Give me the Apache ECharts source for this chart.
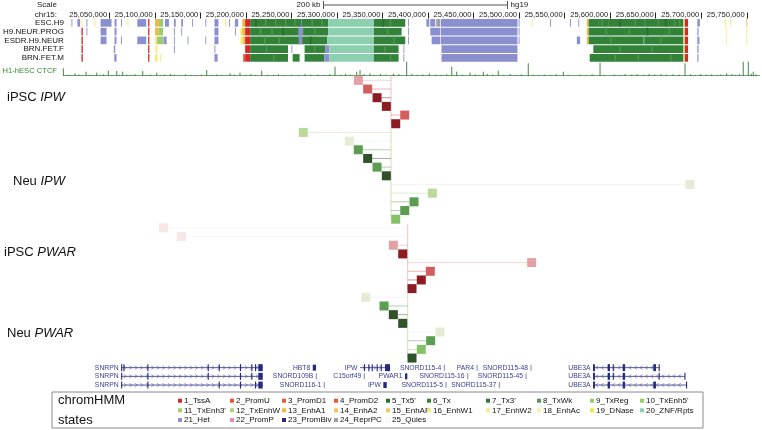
<!DOCTYPE html>
<html><head><meta charset="utf-8">
<script src="https://cdn.jsdelivr.net/npm/echarts@6/dist/echarts.min.js"></script>
<style>html,body{margin:0;padding:0;background:#fff}#c{width:762px;height:430px}</style>
</head><body><div id="c"></div>
<script>
var FONT = '"Liberation Sans", Arial, Helvetica, sans-serif';

// ---------- axis (kb on chr15) ----------
var XMIN = 25006.8, XMAX = 25764.5;
var tickKb = [25050,25100,25150,25200,25250,25300,25350,25400,25450,25500,25550,25600,25650,25700,25750];
var scaleBarKb = [25290, 25490];
var scaleBarLabel = '200 kb';
var assemblyName = 'hg19';

// ---------- chromHMM states ----------
var stateNames = ['1_TssA','2_PromU','3_PromD1','4_PromD2',"5_Tx5'",'6_Tx',"7_Tx3'",'8_TxWk','9_TxReg',"10_TxEnh5'",
  "11_TxEnh3'",'12_TxEnhW','13_EnhA1','14_EnhA2','15_EnhAF','16_EnhW1','17_EnhW2','18_EnhAc','19_DNase','20_ZNF/Rpts',
  '21_Het','22_PromP','23_PromBiv','24_ReprPC','25_Quies'];
var stateColors = ['#d42a26','#e8582c','#ea5a3a','#e8583c','#2b6f30','#33823a','#2f7634','#4d9a4a','#9ccb6c','#9ccb6c',
  '#a4cf70','#aad37c','#f0b840','#f3c55a','#f3c55a','#f3ec78','#f5ef8a','#f7f2a6','#eeea44','#8dd0b0',
  '#8a8fd0','#e08ac0','#3e1e7e','#a0a0a0','#ffffff'];

var trackNames = ['ESC.H9','H9.NEUR.PROG','ESDR.H9.NEUR','BRN.FET.F','BRN.FET.M'];
// segments: [start kb, end kb, state]
var trackESC = [[25008.5,25009.5,21],[25015,25018,21],[25019.5,25020.5,16],[25025,25026,21],[25034,25035,16],[25040.5,25052.5,21],
 [25055.8,25058,21],[25063,25064,21],[25070,25071,16],[25080.8,25090.6,21],[25092.7,25094.1,1],[25100.3,25104.7,13],[25104.7,25109,9],
 [25111.2,25115.5,21],[25121,25123,21],[25129,25131,21],[25141,25142,21],[25155.5,25156.5,21],[25165.5,25169.9,21],[25177,25178,16],
 [25181.5,25182.5,21],[25188,25191.6,21],[25196,25199.2,13],[25199.2,25204.7,1],[25204.7,25290.5,6],
 [25210,25212,5],[25221,25222.5,8],[25232,25233.5,8],[25243,25244.5,8],[25253,25254.5,8],[25260.5,25261.5,21],[25272,25273.5,8],[25283,25284.5,8],
 [25290.5,25340.5,20],[25340.5,25375,6],[25350,25352,5],[25358,25359.5,8],[25378,25379,21],[25398.2,25401.4,21],[25402.5,25407.9,21],
 [25409,25413.4,24],[25414.1,25498.2,21],[25499.5,25500.5,21],[25514,25515,16],[25534,25535,21],[25556,25557,21],[25565,25566,21],
 [25574.3,25576.4,13],[25576.4,25680.5,6],[25587,25588,8],[25590.6,25592,8],[25598,25599,8],[25610,25612,5],[25626.8,25628,8],[25637.6,25638.8,8],
 [25652.2,25653.5,8],[25660,25662,5],[25670.2,25671.5,8],[25675.7,25677,8],[25680.5,25681.9,16],[25681.9,25685.5,1],[25695.7,25698.5,21],
 [25726,25727,16],[25731.5,25732.5,16],[25749.5,25750.5,13]];
var trackNEUR = [[25019.5,25021,1],[25025,25026,21],[25040.5,25047,21],[25055.8,25058,21],[25092.7,25094.1,1],[25100.3,25104,13],
 [25104,25109,10],[25121,25122,21],[25129,25130,21],[25165.5,25169.9,21],[25188,25189,21],[25194,25196,16],[25196,25199.2,13],
 [25199.2,25204.7,1],[25204.7,25290.5,6],[25215,25217,8],[25228,25229.5,8],[25240,25242,5],[25257.6,25263,21],[25275,25276.5,8],
 [25290.5,25340.5,20],[25340.5,25371,6],[25355,25356.5,8],[25378,25379,21],[25402.5,25413.4,21],[25414.1,25498.2,21],[25499.5,25500.5,21],
 [25574.3,25576.4,13],[25576.4,25680.5,6],[25595,25596.5,8],[25620,25621.5,8],[25640,25642,5],[25664,25665.5,8],
 [25680.5,25681.9,16],[25681.9,25685.5,1],[25695.7,25697,21],[25727,25728,16],[25749.5,25750.5,16]];
var trackESDR = [[25019.5,25021,1],[25040.5,25047,21],[25055.8,25058,21],[25063,25064,21],[25080.8,25090.6,21],[25092.7,25094.1,1],
 [25100.3,25102.5,16],[25102.5,25109,9],[25109.5,25113,21],[25121,25122,21],[25136,25137,21],[25155.5,25156.5,21],[25165.5,25169.9,21],
 [25194,25197,16],[25197,25199.2,13],[25199.2,25204.7,1],[25204.7,25289.5,6],[25220,25221.5,8],[25236,25237.5,8],[25258,25262,21],
 [25270,25272,5],[25289.5,25340.5,20],[25340.5,25375,6],[25362,25363.5,8],[25378,25379,21],[25404,25413.4,21],[25414.1,25498.2,21],
 [25499.5,25500.5,21],[25563.4,25567,21],[25574.3,25576.4,13],[25576.4,25680.5,6],[25600,25601.5,8],[25636.5,25637.5,20],[25655,25656.5,8],
 [25680.5,25681.9,16],[25681.9,25685.5,1],[25695.7,25698,21],[25727,25728,16],[25749.5,25750.5,16]];
var trackBRNF = [[25019.5,25021,1],[25055,25056.5,21],[25092.7,25094.1,1],[25100.8,25103,16],[25121,25122,21],[25165.5,25166.5,21],
 [25199.2,25204.7,1],[25204.7,25246.3,6],[25222,25223.5,8],[25250,25251,21],[25264.5,25287,6],[25275,25276.5,8],[25287,25291.6,21],
 [25291.6,25340.5,20],[25340.5,25367.7,6],[25352,25353.5,8],[25373,25374,21],[25414.8,25498.2,21],[25581.5,25680.5,6],[25610,25611.5,8],
 [25645,25646.5,8],[25680.5,25681.9,16],[25681.9,25685.5,1],[25695.7,25697,21]];
var trackBRNM = [[25019.5,25021,1],[25055.5,25058,21],[25092.7,25094.1,1],[25100.3,25103,16],[25106,25107,16],[25165.5,25169,21],
 [25197,25199.2,3],[25199.2,25204.7,1],[25204.7,25246.3,6],[25230,25231.5,8],[25251.4,25259,6],[25264.5,25286,6],[25286,25291.6,21],
 [25291.6,25340.5,20],[25340.5,25367.7,6],[25358,25359.5,8],[25373,25374,21],[25414.8,25498.2,21],[25577.5,25680.5,6],[25605,25606.5,8],
 [25630,25631.5,8],[25666,25667.5,8],[25680.5,25681.9,16],[25681.9,25685.5,1],[25695.7,25697,21]];
var tracks = [trackESC, trackNEUR, trackESDR, trackBRNF, trackBRNM];

// ---------- H1-hESC CTCF signal ----------
var ctcfLabel = 'H1-hESC CTCF';
var ctcfPeakPos = [25007.2,25019.9,25031.9,25043.5,25056.1,25065.2,25071.7,25093.5,25108.7,25123.9,25163.0,25188.4,25199.2,25222.8,
  25302.5,25326.1,25329.7,25340.5,25380.4,25429.4,25434.8,25449.3,25463.7,25480.0,25512.6,25550.7,25590.6,25683.0,25728.3,25746.3,25751.8,25757.2];
var ctcfPeakVal = [7.7,2.7,4.3,3.3,5.3,5,4.3,5,3.3,2,6,2.7,3.3,5.3,9.3,4.3,6,2.7,14.3,9.3,4.3,3.3,4.3,5.3,12.7,4.3,13.3,12.7,2.7,14.3,14.3,4.3];
var ctcfNoise = [[25012,1.2],[25015,0.8],[25024,1.5],[25027,0.9],[25036,1.3],[25039,0.7],[25048,1.1],[25051,1.6],[25060,0.9],[25068,1.2],
 [25076,1.4],[25080,0.8],[25085,1.8],[25098,1.0],[25102,1.3],[25113,0.9],[25117,1.5],[25128,1.1],[25133,0.8],[25140,1.7],[25146,1.2],
 [25152,0.9],[25157,1.4],[25169,1.0],[25174,1.6],[25179,1.2],[25184,0.9],[25193,1.5],[25205,1.1],[25211,1.9],[25216,0.8],[25229,1.2],
 [25236,1.0],[25241,1.7],[25247,0.9],[25255,1.3],[25263,1.1],[25270,2.0],[25276,1.2],[25284,1.5],[25291,1.0],[25297,1.8],[25309,1.3],
 [25314,2.2],[25319,1.5],[25334,1.7],[25345,1.1],[25352,1.9],[25358,1.4],[25366,2.3],[25372,1.8],[25386,2.0],[25392,1.2],[25398,1.6],
 [25405,2.4],[25412,1.5],[25418,1.1],[25424,1.8],[25441,1.3],[25455,1.7],[25459,1.1],[25468,2.0],[25474,1.4],[25486,1.2],[25493,1.9],
 [25499,1.0],[25505,1.6],[25518,1.3],[25524,0.9],[25530,1.5],[25537,1.1],[25543,1.7],[25556,1.2],[25569,1.5],[25576,1.0],[25582,1.8],
 [25595,1.3],[25606,1.6],[25612,1.1],[25618,2.0],[25625,1.4],[25631,1.8],[25638,1.2],[25644,2.1],[25650,1.5],[25657,1.9],[25663,1.3],
 [25670,1.7],[25677,1.2],[25689,1.6],[25694,1.1],[25700,1.9],[25706,1.3],[25712,1.7],[25718,1.0],[25722,1.5],[25734,1.9],[25738,1.2],
 [25742,1.8],[25755,2.2],[25760,1.6]];

// ---------- interaction squares ----------
var lolliGroups = ['iPSC IPW','Neu IPW','iPSC PWAR','Neu PWAR'];
var lolliCenters = [25363.4, 25363.4, 25381.5, 25381.5];
var lolliCellType = ['iPSC','Neu','iPSC','Neu'];
var iPSC_IPW_pos = [25327.8,25338.0,25348.2,25358.3,25378.3,25368.5];
var iPSC_IPW_lvl = [2,3,4,4,3,4];
var Neu_IPW_pos = [25268.0,25318.0,25327.8,25338.0,25348.2,25358.3,25688.4,25408.3,25388.4,25378.3,25368.5];
var Neu_IPW_lvl = [2,1,4,5,4,5,1,2,4,4,3];
var iPSC_PWAR_pos = [25115.9,25135.4,25365.9,25376.1,25516.3,25406.1,25396.3,25386.2];
var iPSC_PWAR_lvl = [1,1,2,4,2,3,4,4];
var Neu_PWAR_pos = [25335.9,25355.8,25365.9,25376.1,25416.6,25406.5,25396.3,25386.2];
var Neu_PWAR_lvl = [1,4,5,5,1,4,3,5];
var lolliPos = [iPSC_IPW_pos, Neu_IPW_pos, iPSC_PWAR_pos, Neu_PWAR_pos];
var lolliLvl = [iPSC_IPW_lvl, Neu_IPW_lvl, iPSC_PWAR_lvl, Neu_PWAR_lvl];
var redScale = ['#f8e6e6','#e0a2a4','#d45e5e','#8c1c22'];
var greenScale = ['#e4ecd6','#bbd99a','#84c064','#5c9e50','#2f5229'];

// ---------- genes ----------
var geneNames  = ['SNRPN','SNRPN','SNRPN','HBT8','SNORD109B','SNORD116-1','IPW','C15orf49','PWAR1','IPW',
  'SNORD115-4','SNORD115-16','SNORD115-5','PAR4','SNORD115-45','SNORD115-37','SNORD115-48','UBE3A','UBE3A','UBE3A'];
var geneStart  = [25070.0,25070.0,25070.0,25278.3,25281.6,25290.3,25329.7,25333.8,25378.6,25355.0,
  25420.8,25446.1,25422.6,25456.3,25509.6,25480.6,25515.0,25583.0,25583.0,25583.0];
var geneEnd    = [25223.9,25223.9,25223.9,25281.9,25282.3,25291.0,25362.3,25334.5,25381.1,25358.7,
  25421.5,25446.8,25423.3,25457.0,25510.3,25481.3,25515.7,25655.0,25683.0,25684.8];
var geneRow    = [0,1,2,0,1,2,0,1,1,2,0,1,2,0,1,2,0,0,1,2];
var geneStrand = [1,1,1,0,0,0,1,0,0,0,0,0,0,0,0,0,0,-1,-1,-1];
var geneExons  = [
  [[25070,25071],[25072.4,25073.2],[25098.5,25099.2],[25164.1,25164.8],[25176.1,25176.8],[25199.2,25199.9],[25211.5,25212.2],[25215.5,25216.2],[25219.1,25223.9]],
  [[25070,25071],[25098.5,25099.2],[25164.1,25164.8],[25199.2,25199.9],[25211.5,25212.2],[25219.1,25223.9]],
  [[25070,25071],[25098.5,25099.2],[25176.1,25176.8],[25199.2,25199.9],[25215.5,25216.2],[25219.1,25223.9]],
  [[25278.3,25281.9]],[[25281.6,25282.3]],[[25290.3,25291.0]],
  [[25334.0,25334.7],[25338.7,25339.4],[25342.4,25343.1],[25347.8,25348.5],[25352.2,25352.9],[25356.9,25362.3]],
  [[25333.8,25334.5]],[[25378.6,25381.1]],[[25355.0,25358.7]],
  [[25420.8,25421.5]],[[25446.1,25446.8]],[[25422.6,25423.3]],[[25456.3,25457.0]],[[25509.6,25510.3]],[[25480.6,25481.3]],[[25515.0,25515.7]],
  [[25583.0,25585.1],[25598.9,25601.4],[25604.4,25605.0],[25615.2,25617.7],[25648.5,25651.4],[25654.3,25655.0]],
  [[25583.0,25585.1],[25598.9,25601.4],[25604.4,25605.0],[25615.2,25617.7],[25654.3,25655.0],[25682.3,25683.0]],
  [[25583.0,25585.1],[25598.9,25601.4],[25615.2,25617.7],[25648.5,25651.4],[25684.1,25684.8]]
];

// ---------- build data ----------
var trackData = [];
tracks.forEach(function (t, ti) { t.forEach(function (s) { trackData.push([s[0], s[1], ti, s[2]]); }); });
var ctcfData = [];
ctcfNoise.forEach(function (p) { ctcfData.push([p[0], p[1]]); });
ctcfPeakPos.forEach(function (p, i) { ctcfData.push([p, ctcfPeakVal[i]]); });

var lolliRows = [], lolliData = [], lolliVert = [];
var rowIdx = 0;
lolliPos.forEach(function (arr, g) {
  var first = rowIdx;
  arr.forEach(function (p, i) {
    lolliRows.push(lolliGroups[g] + ' ' + (i + 1));
    lolliData.push([p, rowIdx, lolliCenters[g], g, lolliLvl[g][i]]);
    rowIdx++;
  });
  lolliVert.push([lolliCenters[g], first, rowIdx - 1, g]);
});
function lolliColor(g, lvl) {
  return lolliCellType[g] === 'iPSC' ? redScale[lvl - 1] : greenScale[lvl - 1];
}
var geneData = geneNames.map(function (n, i) { return [geneStart[i], geneEnd[i], geneRow[i], i]; });

// ---------- renderers ----------
function renderScale(params, api) {
  var a = api.coord([api.value(0), 0.5]), b = api.coord([api.value(1), 0.5]);
  var y = a[1];
  var st = {stroke: '#555', lineWidth: 1};
  return {type: 'group', children: [
    {type: 'line', shape: {x1: a[0], y1: y, x2: b[0], y2: y}, style: st},
    {type: 'line', shape: {x1: a[0], y1: y - 4, x2: a[0], y2: y + 4}, style: st},
    {type: 'line', shape: {x1: b[0], y1: y - 4, x2: b[0], y2: y + 4}, style: st},
    {type: 'text', x: a[0] - 3, y: y, style: {text: scaleBarLabel, align: 'right', verticalAlign: 'middle', font: '8px ' + FONT, fill: '#222'}},
    {type: 'text', x: b[0] + 3, y: y, style: {text: assemblyName, align: 'left', verticalAlign: 'middle', font: '8px ' + FONT, fill: '#222'}}
  ]};
}
function renderTrack(params, api) {
  var s = api.coord([api.value(0), api.value(2)]);
  var e = api.coord([api.value(1), api.value(2)]);
  var h = 7.6;
  return {type: 'rect', shape: {x: s[0], y: s[1] - h / 2, width: Math.max(e[0] - s[0], 0.9), height: h},
    style: {fill: stateColors[api.value(3) - 1]}};
}
function renderCtcf(params, api) {
  var b = api.coord([api.value(0), 0]);
  var t = api.coord([api.value(0), api.value(1)]);
  return {type: 'line', shape: {x1: b[0], y1: b[1], x2: t[0], y2: t[1]}, style: {stroke: '#2f7a2f', lineWidth: 0.9}};
}
function renderBaseline(params, api) {
  var a = api.coord([XMIN, 0]), b = api.coord([XMAX, 0]);
  return {type: 'line', shape: {x1: a[0], y1: a[1] - 0.5, x2: b[0], y2: b[1] - 0.5}, style: {stroke: '#4a8a4a', lineWidth: 0.8}};
}
function renderVert(params, api) {
  var a = api.coord([api.value(0), api.value(1)]);
  var b = api.coord([api.value(0), api.value(2)]);
  var col = lolliCellType[api.value(3)] === 'iPSC' ? '#f0c4c6' : '#d2e2b6';
  return {type: 'line', shape: {x1: a[0], y1: a[1] - 4, x2: b[0], y2: b[1]}, style: {stroke: col, lineWidth: 1}};
}
function renderLolli(params, api) {
  var p = api.coord([api.value(0), api.value(1)]);
  var c = api.coord([api.value(2), api.value(1)]);
  var col = lolliColor(api.value(3), api.value(4));
  var sz = 9;
  return {type: 'group', children: [
    {type: 'line', shape: {x1: c[0], y1: p[1], x2: p[0], y2: p[1]}, style: {stroke: col, lineWidth: 1, opacity: 0.45}},
    {type: 'rect', shape: {x: p[0] - sz / 2, y: p[1] - sz / 2, width: sz, height: sz}, style: {fill: col}}
  ]};
}
function renderGene(params, api) {
  var i = api.value(3);
  var s = api.coord([api.value(0), api.value(2)]);
  var e = api.coord([api.value(1), api.value(2)]);
  var y = s[1];
  var ch = [];
  var navy = '#262a7e';
  if (geneStrand[i] !== 0) {
    ch.push({type: 'line', shape: {x1: s[0], y1: y, x2: e[0], y2: y}, style: {stroke: navy, lineWidth: 0.8}});
    for (var x = s[0] + 4; x < e[0] - 3; x += 5.5) {
      var d = geneStrand[i] * 1.3;
      ch.push({type: 'polyline', shape: {points: [[x - d, y - 1.8], [x + d, y], [x - d, y + 1.8]]}, style: {stroke: '#5a5ea6', fill: null, lineWidth: 0.6}});
    }
  }
  geneExons[i].forEach(function (ex) {
    var a = api.coord([ex[0], api.value(2)]), b = api.coord([ex[1], api.value(2)]);
    var w = Math.max(b[0] - a[0], 1.1);
    var single = geneStrand[i] === 0;
    ch.push({type: 'rect', shape: {x: a[0], y: y - (single ? 3 : 3.5), width: w, height: single ? 6 : 7},
      style: {fill: single && w < 2 ? '#8a8ec4' : navy}});
  });
  ch.push({type: 'text', x: s[0] - 2.5, y: y, style: {text: geneNames[i], align: 'right', verticalAlign: 'middle',
    font: '6.8px ' + FONT, fill: '#3a3f8f'}});
  return {type: 'group', children: ch};
}

// ---------- legend graphic ----------
var legendColX = [178, 230, 282, 334, 386, 427, 486, 537, 590, 640];
var legendRowY = [400.7, 410.3, 420];
var graphics = [
  {type: 'rect', shape: {x: 52, y: 392, width: 651, height: 36}, style: {fill: '#fff', stroke: '#8a8a8a', lineWidth: 1}},
  {type: 'text', x: 58, y: 400.5, style: {text: 'chromHMM', font: '13px ' + FONT, fill: '#111', verticalAlign: 'middle'}},
  {type: 'text', x: 58, y: 420, style: {text: 'states', font: '13px ' + FONT, fill: '#111', verticalAlign: 'middle'}},
  {type: 'text', x: 57, y: 5, style: {text: 'Scale', font: '8px ' + FONT, fill: '#222', align: 'right', verticalAlign: 'middle'}},
  {type: 'text', x: 57, y: 14.5, style: {text: 'chr15:', font: '8px ' + FONT, fill: '#222', align: 'right', verticalAlign: 'middle'}},
  {type: 'text', x: 57, y: 71, style: {text: ctcfLabel, font: '7.6px ' + FONT, fill: '#2e8b2e', align: 'right', verticalAlign: 'middle'}}
];
var groupLabelPos = [[7, 97.7], [13, 181.7], [4, 252], [7, 333]];
lolliGroups.forEach(function (g, k) {
  var parts = g.split(' ');
  graphics.push({type: 'text', x: groupLabelPos[k][0], y: groupLabelPos[k][1], style: {
    text: '{n|' + parts[0] + ' }{i|' + parts[1] + '}', verticalAlign: 'middle',
    rich: {n: {font: '13px ' + FONT, fill: '#111'}, i: {font: 'italic 13px ' + FONT, fill: '#111'}}}});
});
stateNames.forEach(function (n, i) {
  var r = Math.floor(i / 10), c = i % 10;
  var x = legendColX[c], y = legendRowY[r];
  graphics.push({type: 'rect', shape: {x: x, y: y - 2, width: 4, height: 4},
    style: {fill: stateColors[i], stroke: i === 24 ? '#e8e8e8' : null, lineWidth: 0.5}});
  graphics.push({type: 'text', x: x + 6, y: y, style: {text: n, font: '8px ' + FONT, fill: '#111', verticalAlign: 'middle'}});
});

// ---------- chart ----------
var chart = echarts.init(document.getElementById('c'), null, {renderer: 'canvas'});
var gridL = 63, gridR = 2;
function hiddenX(gi) { return {type: 'value', gridIndex: gi, min: XMIN, max: XMAX, show: false}; }
chart.setOption({
  animation: false,
  backgroundColor: '#fff',
  grid: [
    {left: gridL, right: gridR, top: 0, height: 10},
    {left: gridL, right: gridR, top: 18.5, height: 43.75},
    {left: gridL, right: gridR, top: 60, height: 16},
    {left: gridL, right: gridR, top: 76, height: 286.4},
    {left: gridL, right: gridR, top: 363.3, height: 26.1}
  ],
  xAxis: [
    hiddenX(0),
    {type: 'value', gridIndex: 1, min: XMIN, max: XMAX, position: 'top',
      axisLine: {show: false}, splitLine: {show: false},
      axisTick: {show: true, customValues: tickKb, length: 6, lineStyle: {color: '#222', width: 1}},
      axisLabel: {customValues: tickKb, fontSize: 7.6, fontFamily: FONT, color: '#222', align: 'right', margin: 0, padding: [0, 2, 0, 0],
        formatter: function (v) { return Math.round(v * 1000).toLocaleString('en-US'); }}},
    hiddenX(2), hiddenX(3), hiddenX(4)
  ],
  yAxis: [
    {type: 'value', gridIndex: 0, min: 0, max: 1, show: false},
    {type: 'category', gridIndex: 1, data: trackNames, inverse: true, axisLine: {show: false}, axisTick: {show: false},
      axisLabel: {interval: 0, fontSize: 8, fontFamily: FONT, color: '#111', margin: 6}},
    {type: 'value', gridIndex: 2, min: 0, max: 16, show: false},
    {type: 'category', gridIndex: 3, data: lolliRows, inverse: true, show: false},
    {type: 'category', gridIndex: 4, data: ['r1', 'r2', 'r3'], inverse: true, show: false}
  ],
  series: [
    {type: 'custom', xAxisIndex: 0, yAxisIndex: 0, data: [scaleBarKb], renderItem: renderScale, silent: true},
    {type: 'custom', xAxisIndex: 1, yAxisIndex: 1, data: trackData, encode: {x: [0, 1], y: 2}, renderItem: renderTrack, silent: true},
    {type: 'custom', xAxisIndex: 2, yAxisIndex: 2, data: [[XMIN, 0]], renderItem: renderBaseline, silent: true},
    {type: 'custom', xAxisIndex: 2, yAxisIndex: 2, data: ctcfData, encode: {x: 0, y: 1}, renderItem: renderCtcf, silent: true},
    {type: 'custom', xAxisIndex: 3, yAxisIndex: 3, data: lolliVert, encode: {x: 0, y: [1, 2]}, renderItem: renderVert, silent: true},
    {type: 'custom', xAxisIndex: 3, yAxisIndex: 3, data: lolliData, encode: {x: 0, y: 1}, renderItem: renderLolli, silent: true},
    {type: 'custom', xAxisIndex: 4, yAxisIndex: 4, data: geneData, encode: {x: [0, 1], y: 2}, renderItem: renderGene, silent: true}
  ],
  graphic: graphics
});
</script>
</body></html>
